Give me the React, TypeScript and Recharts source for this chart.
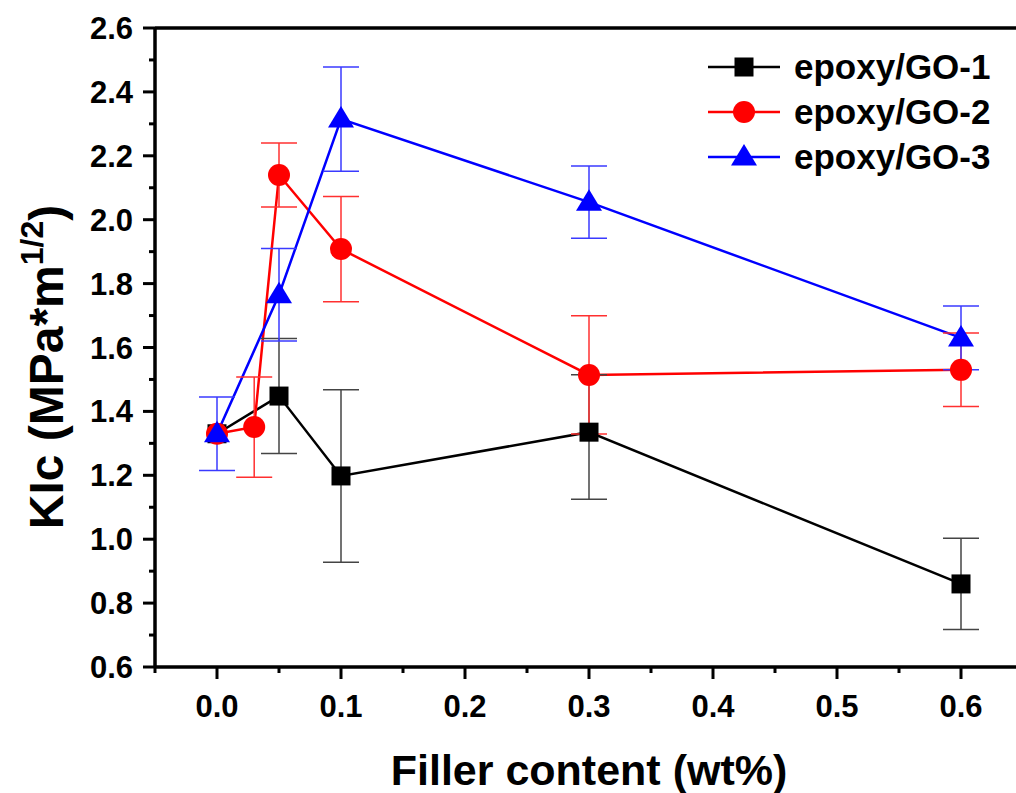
import React from 'react';
import { ComposedChart, Line, XAxis, YAxis, ErrorBar, Legend, ReferenceLine } from 'recharts';

// ---- data ----
const seriesNames = ['epoxy/GO-1', 'epoxy/GO-2', 'epoxy/GO-3'];
const seriesColors = ['#000000', '#ff0000', '#0000ff'];
const errColors = ['#444444', '#ff3030', '#3a3aff'];

const go1X = [0, 0.05, 0.1, 0.3, 0.6];
const go1Y = [1.33, 1.448, 1.198, 1.335, 0.86];
const go1Err: (number | number[])[] = [0, 0.18, 0.27, [0.21, 0.18], 0.143];

const go2X = [0, 0.03, 0.05, 0.1, 0.3, 0.6];
const go2Y = [1.33, 1.351, 2.14, 1.908, 1.514, 1.53];
const go2Err = [0, 0.157, 0.1, 0.165, 0.185, 0.115];

const go3X = [0, 0.05, 0.1, 0.3, 0.6];
const go3Y = [1.33, 1.765, 2.315, 2.055, 1.63];
const go3Err = [0.115, 0.145, 0.163, 0.113, 0.1];

const xTicks = [-0.05, 0, 0.05, 0.1, 0.15, 0.2, 0.25, 0.3, 0.35, 0.4, 0.45, 0.5, 0.55, 0.6, 0.65];
const yTicks = [0.6, 0.7, 0.8, 0.9, 1.0, 1.1, 1.2, 1.3, 1.4, 1.5, 1.6, 1.7, 1.8, 1.9, 2.0, 2.1, 2.2, 2.3, 2.4, 2.5, 2.6];

const build = (xs: number[], ys: number[], es: any[]) =>
  xs.map((x, i) => ({ x, y: ys[i], err: es[i] }));

const data1 = build(go1X, go1Y, go1Err);
const data2 = build(go2X, go2Y, go2Err);
const data3 = build(go3X, go3Y, go3Err);
const datasets = [data1, data2, data3];

const FONT = '"Liberation Sans", Arial, Helvetica, sans-serif';

const isMajorX = (v: number) => Math.abs(v * 10 - Math.round(v * 10)) < 1e-6 && v >= 0;
const isMajorY = (v: number) => {
  const r = Math.round(v * 10);
  return Math.abs(v * 10 - r) < 1e-6 && r % 2 === 0;
};

const XTick = (props: any) => {
  const { x, y, payload } = props;
  const v = payload.value;
  const major = isMajorX(v);
  return (
    <g>
      <line x1={x} y1={y} x2={x} y2={y + (major ? 12 : 6)} stroke="#000" strokeWidth={3} />
      {major && (
        <text x={x} y={y + 50} textAnchor="middle" fontFamily={FONT} fontWeight="bold" fontSize={31} fill="#000">
          {v.toFixed(1)}
        </text>
      )}
    </g>
  );
};

const YTick = (props: any) => {
  const { x, y, payload } = props;
  const v = payload.value;
  const major = isMajorY(v);
  return (
    <g>
      <line x1={x} y1={y} x2={x - (major ? 12 : 6)} y2={y} stroke="#000" strokeWidth={3} />
      {major && (
        <text x={x - 22} y={y + 11} textAnchor="end" fontFamily={FONT} fontWeight="bold" fontSize={31} fill="#000">
          {v.toFixed(1)}
        </text>
      )}
    </g>
  );
};

const Marker = ({ kind, cx, cy, color }: { kind: number; cx: number; cy: number; color: string }) => {
  if (kind === 0) return <rect x={cx - 9.5} y={cy - 9.5} width={19} height={19} fill={color} />;
  if (kind === 1) return <circle cx={cx} cy={cy} r={11} fill={color} />;
  return <polygon points={`${cx},${cy - 13} ${cx - 13},${cy + 8.5} ${cx + 13},${cy + 8.5}`} fill={color} />;
};

const makeDot = (kind: number) => (props: any) => {
  const { cx, cy, index } = props;
  if (cx == null || cy == null) return <g key={`d${kind}-${index}`} />;
  return (
    <g key={`d${kind}-${index}`}>
      <Marker kind={kind} cx={cx} cy={cy} color={seriesColors[kind]} />
    </g>
  );
};

const renderLegend = () => (
  <div style={{ fontFamily: FONT }}>
    {seriesNames.map((name, i) => (
      <div key={name} style={{ display: 'flex', alignItems: 'center', height: 45 }}>
        <svg width={80} height={30} style={{ display: 'block' }}>
          <line x1={0} y1={15} x2={72} y2={15} stroke={seriesColors[i]} strokeWidth={2.5} />
          <Marker kind={i} cx={36} cy={15} color={seriesColors[i]} />
        </svg>
        <span style={{ fontWeight: 'bold', fontSize: 35, marginLeft: 6, color: '#000', whiteSpace: 'nowrap' }}>{name}</span>
      </div>
    ))}
  </div>
);

const YLabel = () => (
  <text
    x={63}
    y={367}
    transform="rotate(-90, 63, 367)"
    textAnchor="middle"
    fontFamily={FONT}
    fontWeight="bold"
    fontSize={48}
    fill="#000"
  >
    KIc (MPa*m
    <tspan fontSize={32} dy={-20}>1/2</tspan>
    <tspan dy={20}>)</tspan>
  </text>
);

const XLabel = () => (
  <text x={589} y={785} textAnchor="middle" fontFamily={FONT} fontWeight="bold" fontSize={43} fill="#000">
    Filler content (wt%)
  </text>
);

export default function App() {
  return (
    <div style={{ position: 'absolute', left: 0, top: 0, width: 1016, height: 793, overflow: 'hidden', background: '#fff' }}>
      <ComposedChart width={1040} height={793} margin={{ top: 28, right: 17, bottom: 0, left: 0 }}>
        <XAxis
          type="number"
          dataKey="x"
          domain={[-0.05, 0.65]}
          ticks={xTicks}
          allowDataOverflow
          height={126}
          axisLine={{ stroke: '#000', strokeWidth: 3.5 }}
          tickLine={false}
          tickSize={0}
          tickMargin={0}
          tick={<XTick />}
          interval={0}
          label={<XLabel />}
        />
        <YAxis
          type="number"
          domain={[0.6, 2.6]}
          ticks={yTicks}
          allowDataOverflow
          width={155}
          axisLine={{ stroke: '#000', strokeWidth: 3.5 }}
          tickLine={false}
          tickSize={0}
          tickMargin={0}
          tick={<YTick />}
          interval={0}
          label={<YLabel />}
        />
        <ReferenceLine y={2.6} stroke="#000" strokeWidth={3.5} ifOverflow="visible" />
        <Legend
          layout="vertical"
          align="center"
          verticalAlign="middle"
          content={renderLegend}
          wrapperStyle={{ left: 708, top: 44, width: 320, height: 140 }}
        />
        {datasets.map((d, i) => (
          <Line
            key={`line${i}`}
            data={d}
            dataKey="y"
            type="linear"
            stroke={seriesColors[i]}
            strokeWidth={2.5}
            dot={makeDot(i)}
            activeDot={false}
            isAnimationActive={false}
            name={seriesNames[i]}
          />
        ))}
        {datasets.map((d, i) => (
          <Line
            key={`err${i}`}
            data={d}
            dataKey="y"
            type="linear"
            stroke="none"
            strokeWidth={0}
            dot={false}
            activeDot={false}
            legendType="none"
            isAnimationActive={false}
          >
            <ErrorBar dataKey="err" direction="y" width={18} strokeWidth={1.5} stroke={errColors[i]} />
          </Line>
        ))}
      </ComposedChart>
    </div>
  );
}
